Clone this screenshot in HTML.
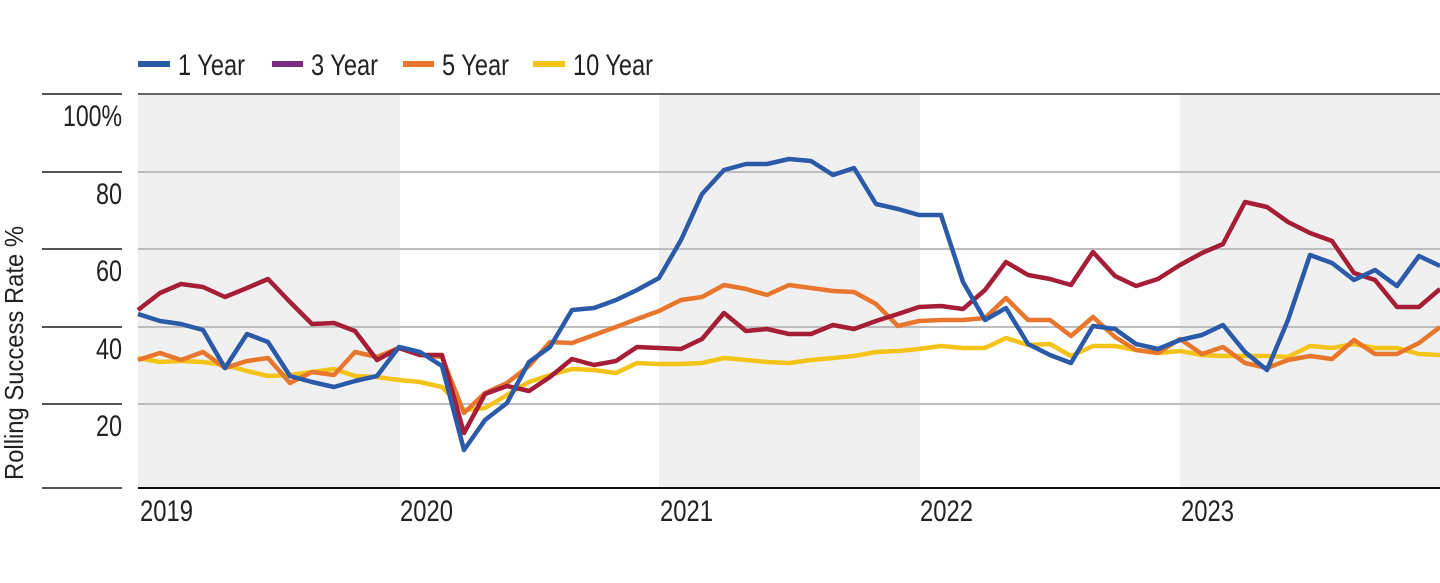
<!DOCTYPE html>
<html><head><meta charset="utf-8"><style>
html,body{margin:0;padding:0;background:#fff;}
svg text{font-family:"Liberation Sans Narrow","Liberation Sans",sans-serif;fill:#222;}
</style></head><body>
<svg width="1440" height="578" viewBox="0 0 1440 578" xmlns="http://www.w3.org/2000/svg">
<rect x="138" y="94" width="262" height="394" fill="#f0f0f0"/>
<rect x="659" y="94" width="261" height="394" fill="#f0f0f0"/>
<rect x="1180" y="94" width="260" height="394" fill="#f0f0f0"/>
<g stroke="#bdbdbd" stroke-width="2">
<line x1="138" y1="172" x2="1440" y2="172"/>
<line x1="138" y1="249" x2="1440" y2="249"/>
<line x1="138" y1="327" x2="1440" y2="327"/>
<line x1="138" y1="404" x2="1440" y2="404"/>
</g>
<line x1="138" y1="94" x2="1440" y2="94" stroke="#666" stroke-width="2"/>
<line x1="138" y1="488" x2="1440" y2="488" stroke="#111" stroke-width="2"/>
<g stroke="#555" stroke-width="2">
<line x1="42" y1="94" x2="122" y2="94"/>
<line x1="42" y1="172" x2="122" y2="172"/>
<line x1="42" y1="249" x2="122" y2="249"/>
<line x1="42" y1="327" x2="122" y2="327"/>
<line x1="42" y1="404" x2="122" y2="404"/>
<line x1="42" y1="488" x2="122" y2="488"/>
</g>
<g font-size="30" lengthAdjust="spacingAndGlyphs">
<text x="63" y="126" textLength="59" lengthAdjust="spacingAndGlyphs">100%</text>
<text x="96" y="204" textLength="26" lengthAdjust="spacingAndGlyphs">80</text>
<text x="96" y="281" textLength="26" lengthAdjust="spacingAndGlyphs">60</text>
<text x="96" y="359" textLength="26" lengthAdjust="spacingAndGlyphs">40</text>
<text x="96" y="436" textLength="26" lengthAdjust="spacingAndGlyphs">20</text>
</g>
<text transform="translate(23,480) rotate(-90)" font-size="26" textLength="254" lengthAdjust="spacingAndGlyphs">Rolling Success Rate %</text>
<g font-size="30">
<text x="140" y="521" textLength="53" lengthAdjust="spacingAndGlyphs">2019</text>
<text x="400" y="521" textLength="53" lengthAdjust="spacingAndGlyphs">2020</text>
<text x="660" y="521" textLength="53" lengthAdjust="spacingAndGlyphs">2021</text>
<text x="920" y="521" textLength="53" lengthAdjust="spacingAndGlyphs">2022</text>
<text x="1181" y="521" textLength="53" lengthAdjust="spacingAndGlyphs">2023</text>
</g>
<g stroke-width="6">
<line x1="138" y1="64" x2="170" y2="64" stroke="#2a5aa8"/>
<line x1="272" y1="64" x2="303" y2="64" stroke="#7b2d82"/>
<line x1="403" y1="64" x2="434" y2="64" stroke="#e8762c"/>
<line x1="533" y1="64" x2="565" y2="64" stroke="#f4c318"/>
</g>
<g font-size="30">
<text x="178" y="75" textLength="67" lengthAdjust="spacingAndGlyphs">1 Year</text>
<text x="311" y="75" textLength="67" lengthAdjust="spacingAndGlyphs">3 Year</text>
<text x="442" y="75" textLength="67" lengthAdjust="spacingAndGlyphs">5 Year</text>
<text x="573" y="75" textLength="80" lengthAdjust="spacingAndGlyphs">10 Year</text>
</g>
<g fill="none" stroke-width="4.5" stroke-linejoin="round">
<polyline stroke="#f4c318" points="138,358 160,362 181,361 203,362 225,365 247,371 268,376 290,375 312,372 334,369 355,376 377,377 399,380 420,382 442,387 464,410 485,408 507,395 529,382 550,375 572,369 594,370 616,373 637,363 659,364 681,364 702,363 724,358 746,360 767,362 789,363 811,360 833,358 854,356 876,352 898,351 919,349 941,346 963,348 985,348 1006,338 1028,345 1050,344 1071,356 1093,346 1115,346 1136,350 1158,353 1180,351 1202,355 1223,356 1245,356 1267,356 1288,357 1310,346 1332,348 1354,344 1375,348 1397,348 1419,354 1440,355"/>
<polyline stroke="#e8762c" points="138,360 160,353 181,360 203,352 225,368 247,361 268,358 290,383 312,372 334,375 355,352 377,357 399,348 420,355 442,357 464,413 485,393 507,383 529,366 550,342 572,343 594,335 616,327 637,319 659,311 681,300 702,297 724,285 746,289 767,295 789,285 811,288 833,291 854,292 876,304 898,326 919,321 941,320 963,320 985,318 1006,298 1028,320 1050,320 1071,336 1093,317 1115,337 1136,350 1158,353 1180,339 1202,354 1223,347 1245,363 1267,368 1288,360 1310,356 1332,359 1354,340 1375,354 1397,354 1419,343 1440,327"/>
<polyline stroke="#a51d36" points="138,310 160,293 181,284 203,287 225,297 247,288 268,279 290,302 312,324 334,323 355,331 377,360 399,348 420,355 442,355 464,433 485,394 507,386 529,391 550,377 572,359 594,365 616,361 637,347 659,348 681,349 702,339 724,313 746,331 767,329 789,334 811,334 833,325 854,329 876,321 898,314 919,307 941,306 963,309 985,290 1006,262 1028,275 1050,279 1071,285 1093,252 1115,276 1136,286 1158,279 1180,265 1202,253 1223,244 1245,202 1267,207 1288,222 1310,233 1332,241 1354,273 1375,280 1397,307 1419,307 1440,289"/>
<polyline stroke="#2a5aa8" points="138,314 160,321 181,324 203,330 225,368 247,334 268,342 290,376 312,382 334,387 355,381 377,376 399,347 420,352 442,366 464,450 485,420 507,403 529,362 550,347 572,310 594,308 616,300 637,290 659,278 681,240 702,194 724,170 746,164 767,164 789,159 811,161 833,175 854,168 876,204 898,209 919,215 941,215 963,282 985,320 1006,308 1028,344 1050,355 1071,363 1093,326 1115,329 1136,344 1158,349 1180,340 1202,335 1223,325 1245,352 1267,370 1288,320 1310,255 1332,263 1354,280 1375,270 1397,286 1419,256 1440,266"/>
</g>
</svg>
</body></html>
